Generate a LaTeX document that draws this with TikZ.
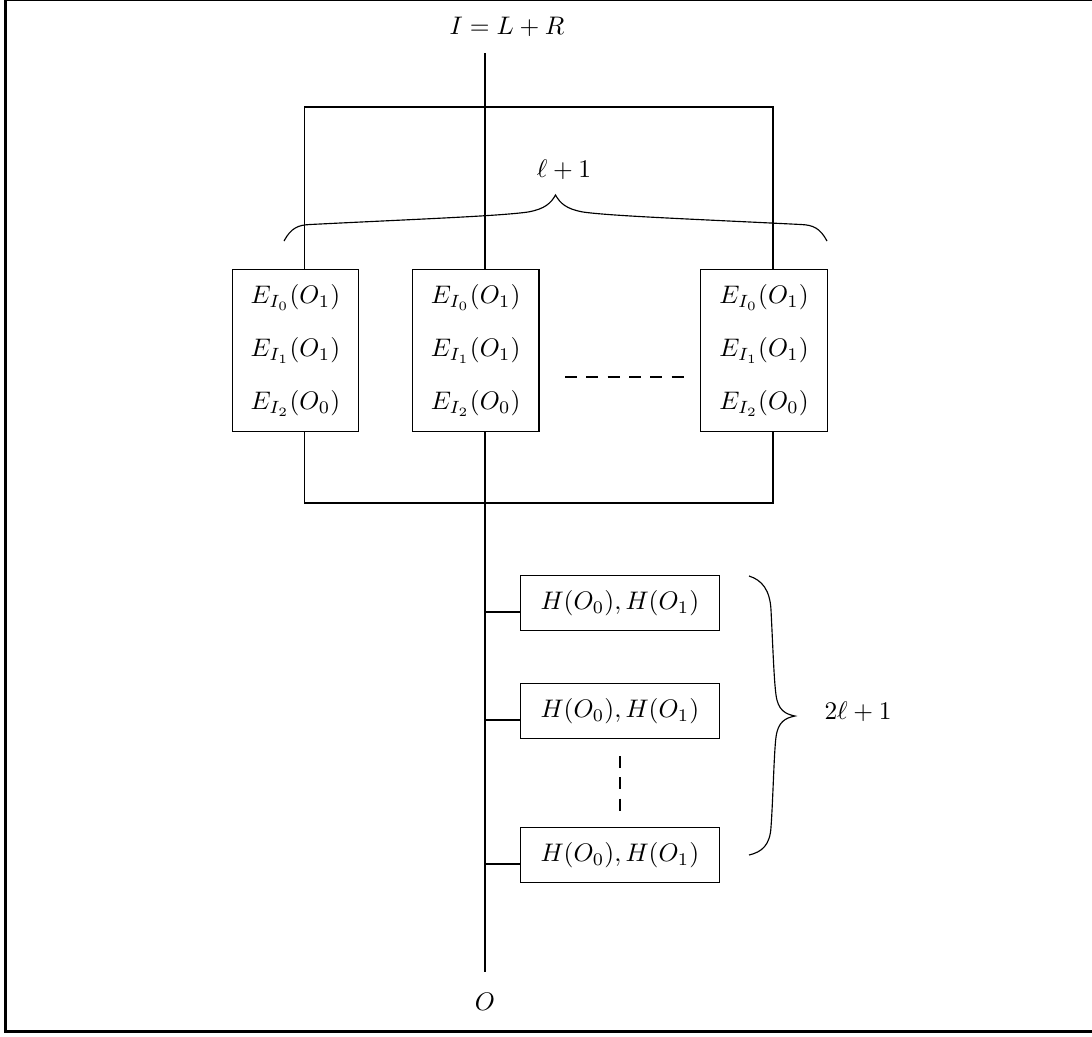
\documentclass[tikz,border=0pt]{standalone}
\begin{document}
\begin{tikzpicture}[x=0.3937pt,y=-0.3937pt,
  ebox/.style={draw, rectangle, line width=0.45pt, minimum width=49.8pt, minimum height=63.9pt, inner sep=0pt, align=center},
  hbox/.style={draw, rectangle, line width=0.45pt, minimum width=78.1pt, minimum height=21.4pt, inner sep=0pt},
  wire/.style={line width=0.45pt},
  dotline/.style={line width=0.9pt, dash pattern=on 4.7pt off 3.7pt},
  bracecurve/.style={line width=0.45pt}]
\useasboundingbox (0,0) rectangle (1092,1036);
% frame
\draw[line width=0.4pt] (4,0.5) -- (1092,0.5);
\draw[line width=1pt] (5.5,0) -- (5.5,1031);
\draw[line width=1.2pt] (4,1031) -- (1092,1031);

% labels
\node (title) at (507,27) {$I = L + R$};
\node (out) at (485,1002) {$O$};
\node (lab1) at (564,170) {$\ell + 1$};
\node (lab2) at (858,712) {$2\ell + 1$};

% E boxes
\node[ebox] (b1) at (295.4,350.5) {$E_{I_0}(O_1)$\\[8.9pt]$E_{I_1}(O_1)$\\[8.9pt]$E_{I_2}(O_0)$};
\node[ebox] (b2) at (475.7,350.5) {$E_{I_0}(O_1)$\\[8.9pt]$E_{I_1}(O_1)$\\[8.9pt]$E_{I_2}(O_0)$};
\node[ebox] (b3) at (764,350.5) {$E_{I_0}(O_1)$\\[8.9pt]$E_{I_1}(O_1)$\\[8.9pt]$E_{I_2}(O_0)$};

% H boxes
\node[hbox] (h1) at (619.9,603) {$H(O_0), H(O_1)$};
\node[hbox] (h2) at (619.9,711) {$H(O_0), H(O_1)$};
\node[hbox] (h3) at (619.9,855) {$H(O_0), H(O_1)$};

% coordinates
\coordinate (top) at (485,53);
\coordinate (bot) at (485,972);
\coordinate (tl) at (304.4,107);
\coordinate (tr) at (773,107);
\coordinate (bl) at (304.4,503);
\coordinate (br) at (773,503);
\coordinate (j1) at (485,612);
\coordinate (j2) at (485,720);
\coordinate (j3) at (485,864);
\coordinate (d1) at (565,377);
\coordinate (d2) at (684,377);
\coordinate (v1) at (620,756);
\coordinate (v2) at (620,811);

% wires
\draw[wire] (top) -- (b2.north -| top);
\draw[wire] (b2.south -| bot) -- (bot);
\draw[wire] (b1.north -| tl) -- (tl) -- (tr) -- (b3.north -| tr);
\draw[wire] (b1.south -| bl) -- (bl) -- (br) -- (b3.south -| br);
\draw[wire] (j1) -- (j1 -| h1.west);
\draw[wire] (j2) -- (j2 -| h2.west);
\draw[wire] (j3) -- (j3 -| h3.west);

% ellipses
\draw[dotline] (d1) -- (d2);
\draw[dotline] (v1) -- (v2);

% top brace
\draw[bracecurve] (284,241) .. controls (291,228) and (298,225) .. (310,224.5)
  .. controls (420,219) and (500,216) .. (528,212)
  .. controls (545,209) and (551,203) .. (555.5,195)
  .. controls (560,203) and (566,209) .. (583,212)
  .. controls (611,216) and (691,219) .. (801,224.5)
  .. controls (813,225) and (820,228) .. (827,241);

% right brace
\draw[bracecurve] (749,576) .. controls (762,580) and (770,590) .. (771,610)
  .. controls (773,650) and (774,680) .. (776,695)
  .. controls (778,710) and (785,714) .. (795,716)
  .. controls (785,718) and (778,722) .. (776,737)
  .. controls (774,752) and (773,800) .. (771,827)
  .. controls (770,845) and (762,852) .. (749,855);
\end{tikzpicture}
\end{document}
